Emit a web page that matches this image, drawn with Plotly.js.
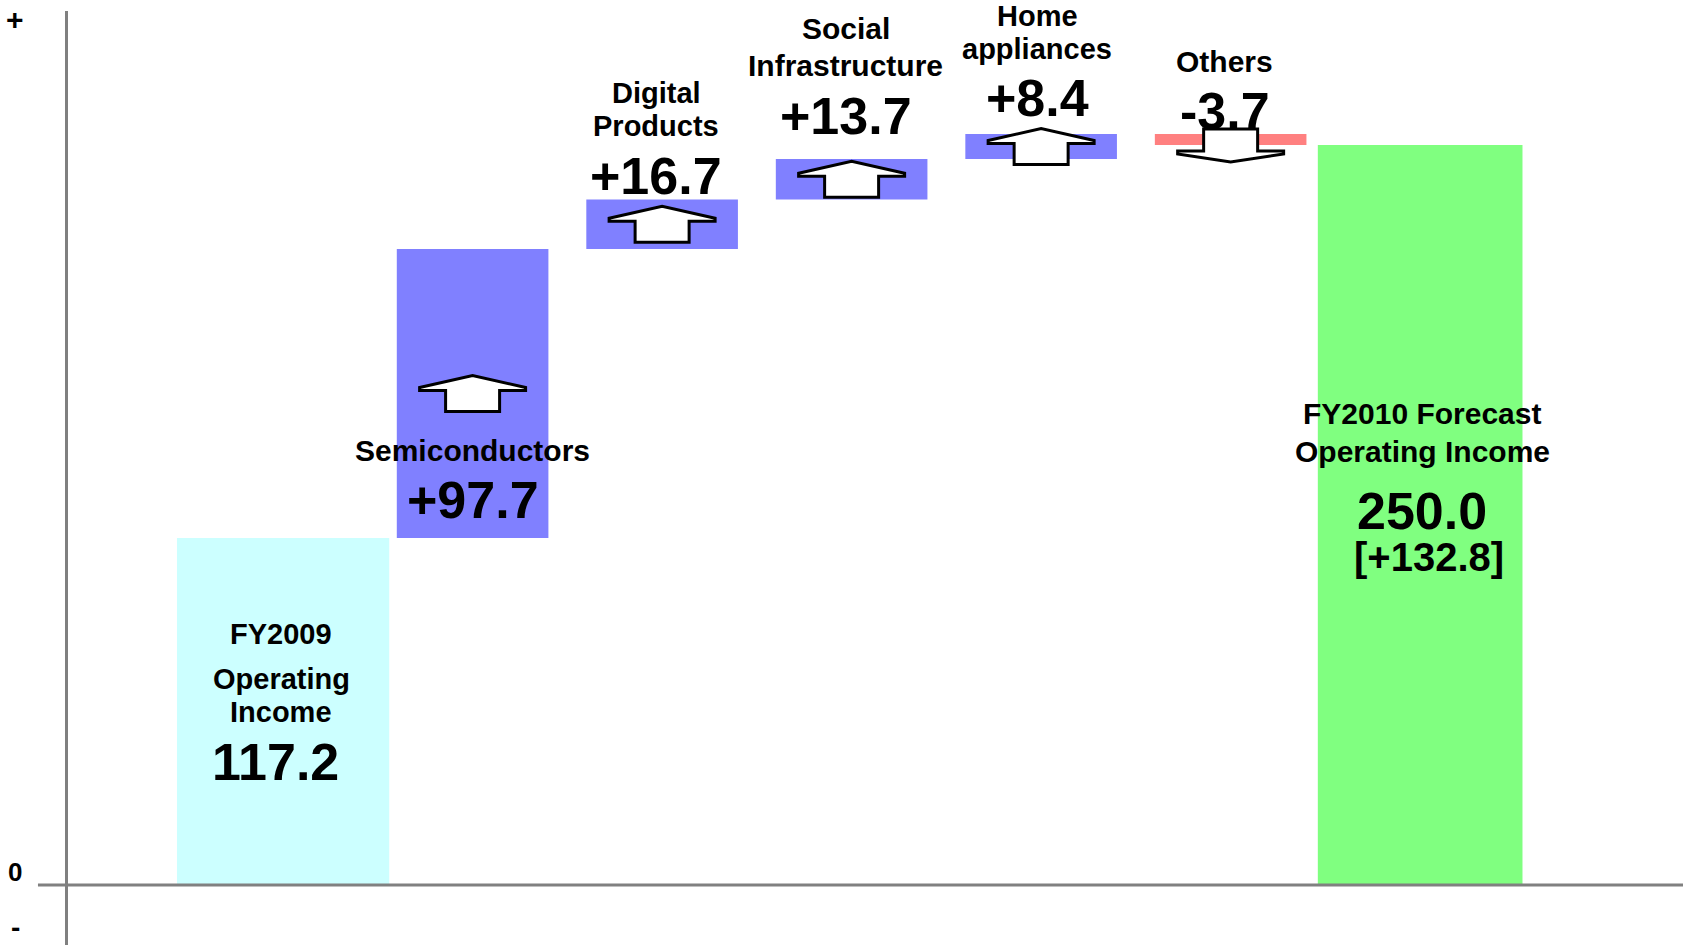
<!DOCTYPE html>
<html><head><meta charset="utf-8">
<script src="https://cdn.plot.ly/plotly-3.0.1.min.js"></script>
<style>html,body{margin:0;padding:0;background:#fff;} #chart{width:1683px;height:945px;}</style>
</head><body><div id="chart"></div>
<script>
// ---------------- data ----------------
const categories = ['FY2009 Operating Income', 'Semiconductors', 'Digital Products',
  'Social Infrastructure', 'Home appliances', 'Others', 'FY2010 Forecast Operating Income'];
const startValue = 117.2;                              // FY2009 operating income
const segmentChanges = [97.7, 16.7, 13.7, 8.4, -3.7];  // Semis, Digital, Social, Home, Others
const forecastValue = 250.0;                           // FY2010 forecast
const forecastChange = 132.8;                          // change vs FY2009
const labelLines = [
  ['FY2009', 'Operating', 'Income'],
  ['Semiconductors'],
  ['Digital', 'Products'],
  ['Social', 'Infrastructure'],
  ['Home', 'appliances'],
  ['Others'],
  ['FY2010 Forecast', 'Operating Income']
];
const axisMarks = ['+', '0', '-'];

// ---------------- build bars from data ----------------
const bases = [0], heights = [startValue];
let running = startValue;
segmentChanges.forEach(c => { bases.push(running); heights.push(c); running += c; });
bases.push(0); heights.push(forecastValue);
const tops = heights.map((h, i) => Math.max(bases[i], bases[i] + h));
const bottoms = heights.map((h, i) => Math.min(bases[i], bases[i] + h));
const mids = tops.map((t, i) => (t + bottoms[i]) / 2);

const last = heights.length - 1;
const colors = heights.map((h, i) => i === 0 ? '#CCFFFF' : (i === last ? '#80FF80' : (h >= 0 ? '#8080FF' : '#FF8080')));
const widths = heights.map((h, i) => i === 0 ? 1.12 : (i === last ? 1.08 : 0.8));

const valueText = heights.map((h, i) => {
  if (i === 0 || i === last) return h.toFixed(1);
  return (h > 0 ? '+' : '') + h.toFixed(1);
});

const trace = {
  type: 'bar', x: categories, y: heights, base: bases,
  width: widths, marker: { color: colors, line: { width: 0 } },
  hoverinfo: 'skip', showlegend: false
};

// ---------------- label placement (style) ----------------
const FONT = 'Liberation Sans, Arial, sans-serif';
const LBL = 30, BIG = 52;
// per bar: anchor ('mid' | 'top'), line shifts (px), value shift (px), xshifts
const place = [
  { anchor: 'mid', lines: [78, 33, 0], value: -50, vx: -8, x: -2, size: 29 },
  { anchor: 'mid', lines: [-57], value: -107, vx: 0, x: 0, size: 30 },
  { anchor: 'top', lines: [106, 73], value: 23, vx: -6, x: -6, size: 29 },
  { anchor: 'top', lines: [130, 93], value: 43, vx: -6, x: -6, size: 30 },
  { anchor: 'top', lines: [118, 85], value: 36, vx: -4, x: -4, size: 29 },
  { anchor: 'top', lines: [73], value: 23, vx: -6, x: -6, size: 30 },
  { anchor: 'top', lines: [-268, -306], value: -366, vx: 2, x: 2, size: 30 }
];

const annotations = [];
labelLines.forEach((lines, i) => {
  const p = place[i];
  const yA = p.anchor === 'mid' ? mids[i] : tops[i];
  lines.forEach((t, k) => {
    annotations.push({ x: i, y: yA, xref: 'x', yref: 'y', yshift: p.lines[k], xshift: p.x,
      text: '<b>' + t + '</b>', showarrow: false, xanchor: 'center', yanchor: 'middle',
      font: { family: FONT, size: p.size, color: '#000' } });
  });
  annotations.push({ x: i, y: yA, xref: 'x', yref: 'y', yshift: p.value, xshift: p.vx,
    text: '<b>' + valueText[i] + '</b>', showarrow: false, xanchor: 'center', yanchor: 'middle',
    font: { family: FONT, size: BIG, color: '#000' } });
});
annotations.push({ x: last, y: tops[last], xref: 'x', yref: 'y',
  yshift: -412, xshift: 9, text: '<b>[+' + forecastChange.toFixed(1) + ']</b>', showarrow: false,
  xanchor: 'center', yanchor: 'middle', font: { family: FONT, size: 40, color: '#000' } });

// axis marks + / 0 / -
annotations.push({ x: -0.0328, y: 1, xref: 'paper', yref: 'paper', yshift: -8, text: '<b>' + axisMarks[0] + '</b>',
  showarrow: false, xanchor: 'center', yanchor: 'middle', font: { family: FONT, size: 30, color: '#000' } });
annotations.push({ x: -0.0328, y: 0, xref: 'paper', yref: 'y', yshift: 13, text: '<b>' + axisMarks[1] + '</b>',
  showarrow: false, xanchor: 'center', yanchor: 'middle', font: { family: FONT, size: 26, color: '#000' } });
annotations.push({ x: -0.0328, y: 0, xref: 'paper', yref: 'paper', yshift: 0, text: '<b>' + axisMarks[2] + '</b>',
  showarrow: false, xanchor: 'center', yanchor: 'bottom', font: { family: FONT, size: 28, color: '#000' } });

// ---------------- arrows (decorative shapes anchored to bars) ----------------
const upPath = 'M -53,6 L 0,18 L 53,6 L 53,3 L 27,3 L 27,-18 L -27,-18 L -27,3 L -53,3 Z';
const downPath = 'M -27,16 L 27,16 L 27,-6 L 53,-6 L 53,-9 L 0,-17 L -53,-9 L -53,-6 L -27,-6 Z';
const shapes = [];
segmentChanges.forEach((c, k) => {
  const i = k + 1;
  shapes.push({ type: 'path', xref: 'x', yref: 'y', xsizemode: 'pixel', ysizemode: 'pixel',
    xanchor: i, yanchor: c >= 0 ? mids[i] : bottoms[i], path: c >= 0 ? upPath : downPath,
    fillcolor: '#FFFFFF', line: { color: '#000000', width: 3 }, layer: 'above' });
});
// zero line extending left of the axis
shapes.push({ type: 'line', xref: 'paper', yref: 'y', x0: -0.0186, x1: 1, y0: 0, y1: 0,
  line: { color: '#808080', width: 3 }, layer: 'above' });

const yMax = forecastValue * 874 / 740, yMin = -forecastValue * 60 / 740;

const layout = {
  width: 1683, height: 945,
  margin: { l: 68, r: 0, t: 11, b: 0, pad: 0 },
  paper_bgcolor: '#FFFFFF', plot_bgcolor: '#FFFFFF',
  showlegend: false,
  xaxis: { type: 'category', range: [-1.135, 7.387], visible: false, fixedrange: true },
  yaxis: { range: [yMin, yMax], showgrid: false, zeroline: false, showticklabels: false, ticks: '',
    showline: true, linecolor: '#808080', linewidth: 3, fixedrange: true },
  annotations: annotations,
  shapes: shapes
};

Plotly.newPlot('chart', [trace], layout, { displayModeBar: false, staticPlot: true });
</script>
</body></html>
